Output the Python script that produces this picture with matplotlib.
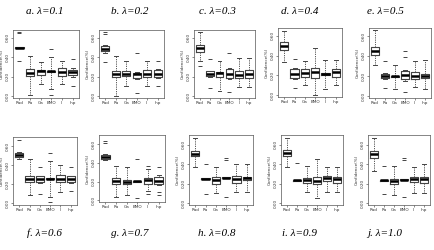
import matplotlib
matplotlib.use("Agg")
import matplotlib.pyplot as plt

# methods on the x axis, lambda value per panel
methods = ["Rad", "Ra", "Ga", "BMO", "Il", "Inp"]
letters = ["a", "b", "c", "d", "e", "f", "g", "h", "i", "j"]
lambdas = [0.1, 0.2, 0.3, 0.4, 0.5, 0.6, 0.7, 0.8, 0.9, 1.0]

# box stats per method: (whislo, q1, med, q3, whishi)
stats_a = [(0.492, 0.492, 0.497, 0.502, 0.502), (0.013, 0.207, 0.240, 0.280, 0.413),
           (0.120, 0.220, 0.253, 0.273, 0.353), (0.073, 0.248, 0.253, 0.258, 0.407),
           (0.120, 0.207, 0.247, 0.287, 0.363), (0.200, 0.213, 0.243, 0.273, 0.290)]
fliers_a = [[0.663, 0.647, 0.363], [], [], [0.480, 0.013], [], [0.380, 0.107]]

stats_b = [(0.440, 0.463, 0.487, 0.513, 0.530), (0.000, 0.197, 0.230, 0.263, 0.413),
           (0.107, 0.207, 0.227, 0.263, 0.363), (0.180, 0.187, 0.230, 0.240, 0.250),
           (0.107, 0.197, 0.230, 0.270, 0.363), (0.190, 0.197, 0.230, 0.270, 0.280)]
fliers_b = [[0.657, 0.637, 0.353], [], [], [0.447, 0.030], [], [0.363, 0.107]]

stats_c = [(0.363, 0.453, 0.497, 0.530, 0.663), (0.200, 0.207, 0.230, 0.253, 0.260),
           (0.047, 0.193, 0.237, 0.250, 0.363), (0.180, 0.187, 0.230, 0.280, 0.290),
           (0.097, 0.187, 0.220, 0.253, 0.387), (0.097, 0.187, 0.230, 0.273, 0.387)]
fliers_c = [[0.313], [0.380, 0.080], [], [0.447, 0.037], [], []]

stats_d = [(0.337, 0.453, 0.493, 0.537, 0.653), (0.160, 0.170, 0.217, 0.260, 0.270),
           (0.097, 0.187, 0.223, 0.263, 0.343), (0.000, 0.177, 0.237, 0.277, 0.477),
           (0.063, 0.203, 0.217, 0.223, 0.353), (0.097, 0.187, 0.230, 0.263, 0.353)]
fliers_d = [[], [0.370, 0.070], [], [], [], []]

stats_e = [(0.313, 0.413, 0.453, 0.487, 0.663), (0.170, 0.180, 0.197, 0.220, 0.230),
           (0.073, 0.190, 0.197, 0.203, 0.313), (0.150, 0.170, 0.207, 0.247, 0.260),
           (0.087, 0.173, 0.200, 0.240, 0.347), (0.073, 0.180, 0.197, 0.220, 0.363)]
fliers_e = [[], [0.347, 0.080], [], [0.447, 0.387, 0.040], [], []]

stats_f = [(0.470, 0.483, 0.507, 0.533, 0.545), (0.083, 0.227, 0.260, 0.283, 0.467),
           (0.215, 0.227, 0.260, 0.283, 0.290), (0.067, 0.255, 0.260, 0.265, 0.450),
           (0.117, 0.227, 0.260, 0.293, 0.407), (0.215, 0.227, 0.260, 0.283, 0.290)]
fliers_f = [[0.667], [], [0.383, 0.100], [0.533, 0.017], [], [0.383, 0.133]]

stats_g = [(0.430, 0.437, 0.463, 0.487, 0.495), (0.037, 0.177, 0.210, 0.243, 0.370),
           (0.053, 0.170, 0.197, 0.220, 0.353), (0.198, 0.198, 0.203, 0.208, 0.208),
           (0.103, 0.177, 0.220, 0.243, 0.337), (0.165, 0.177, 0.210, 0.253, 0.265)]
fliers_g = [[0.637, 0.610], [], [], [0.437, 0.020], [0.370, 0.070], [0.353, 0.087, 0.060]]

stats_h = [(0.367, 0.483, 0.507, 0.533, 0.667), (0.245, 0.245, 0.250, 0.255, 0.255),
           (0.100, 0.200, 0.233, 0.273, 0.367), (0.255, 0.255, 0.260, 0.265, 0.265),
           (0.117, 0.207, 0.250, 0.283, 0.400), (0.117, 0.240, 0.260, 0.273, 0.400)]
fliers_h = [[], [0.400, 0.093], [], [0.467, 0.440, 0.060], [], []]

stats_i = [(0.367, 0.483, 0.517, 0.550, 0.667), (0.228, 0.228, 0.233, 0.238, 0.238),
           (0.117, 0.207, 0.233, 0.260, 0.383), (0.050, 0.200, 0.227, 0.267, 0.450),
           (0.117, 0.227, 0.260, 0.277, 0.367), (0.117, 0.207, 0.250, 0.273, 0.373)]
fliers_i = [[], [0.407], [], [], [], []]

stats_j = [(0.333, 0.467, 0.507, 0.540, 0.667), (0.228, 0.228, 0.233, 0.238, 0.238),
           (0.083, 0.200, 0.223, 0.250, 0.383), (0.235, 0.235, 0.240, 0.245, 0.245),
           (0.100, 0.217, 0.250, 0.267, 0.373), (0.107, 0.207, 0.250, 0.273, 0.400)]
fliers_j = [[], [0.383, 0.093], [], [0.467, 0.440, 0.060], [], []]

all_stats = [stats_a, stats_b, stats_c, stats_d, stats_e,
             stats_f, stats_g, stats_h, stats_i, stats_j]
all_fliers = [fliers_a, fliers_b, fliers_c, fliers_d, fliers_e,
              fliers_f, fliers_g, fliers_h, fliers_i, fliers_j]

W, H = 435, 250
fig = plt.figure(figsize=(W / 100, H / 100), dpi=100)

# axes boxes in pixels: (left, top, right, bottom)
boxes_px = [(13, 30, 79, 98), (99, 30, 164, 98), (194, 30, 255, 98),
            (278, 28, 342, 97), (369, 28, 431, 98),
            (13, 137, 77, 205), (99, 135, 165, 202), (189, 135, 253, 205),
            (281, 135, 343, 205), (368, 135, 430, 205)]
title_x = [45, 130, 217, 300, 385, 45, 130, 217, 300, 385]

grey = "#444444"
for k in range(10):
    l, t, r, b = boxes_px[k]
    ax = fig.add_axes([l / W, 1 - b / H, (r - l) / W, (b - t) / H])
    bxp_stats = []
    for m in range(6):
        lo, q1, med, q3, hi = all_stats[k][m]
        bxp_stats.append(dict(whislo=lo, q1=q1, med=med, q3=q3, whishi=hi,
                              fliers=all_fliers[k][m], label=methods[m]))
    ax.bxp(bxp_stats, positions=range(1, 7), widths=0.78,
           boxprops=dict(color=grey, linewidth=0.8),
           medianprops=dict(color="black", linewidth=1.8),
           whiskerprops=dict(color=grey, linewidth=0.6, linestyle=(0, (1.5, 1.2))),
           capprops=dict(color=grey, linewidth=0.7),
           flierprops=dict(marker="_", markersize=3, markeredgecolor=grey,
                           markeredgewidth=0.7))
    ax.set_xlim(0.4, 6.6)
    top = 0.68 if k < 5 else 0.70
    ax.set_ylim(-0.02, top)
    ax.set_yticks([0.0, 0.2, 0.4, 0.6])
    ax.set_yticklabels(["0.00", "0.20", "0.40", "0.60"], rotation=90, va="center")
    ax.tick_params(labelsize=3, length=1.5, width=0.4, pad=1, colors="#333333")
    for s in ax.spines.values():
        s.set_linewidth(0.5)
        s.set_color("#555555")
    ax.set_ylabel("Confidence(%)", fontsize=3, labelpad=1.5, color="#333333")
    ty = 12 if k < 5 else 233
    fig.text(title_x[k] / W, 1 - ty / H, f"{letters[k]}. λ={lambdas[k]:.1f}",
             ha="center", va="center", fontsize=8, style="italic",
             family="Liberation Serif")

fig.savefig("out.png", dpi=100)
